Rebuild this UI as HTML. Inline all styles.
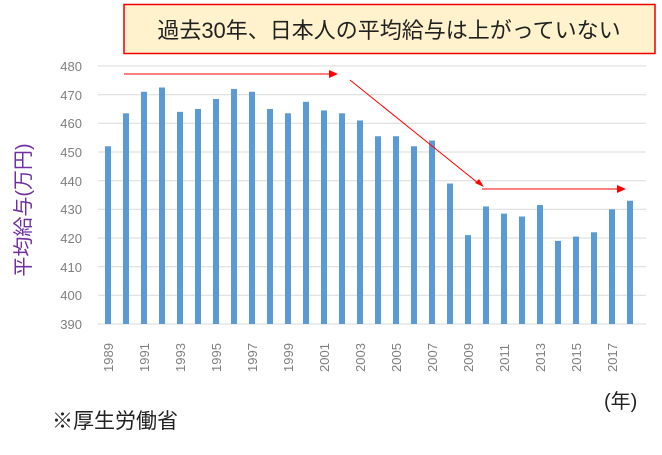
<!DOCTYPE html>
<html><head><meta charset="utf-8"><style>
body{margin:0;width:662px;height:450px;background:#fff;overflow:hidden;font-family:"Liberation Sans","Noto Sans CJK JP",sans-serif}
</style></head><body>
<svg width="662" height="450" xmlns="http://www.w3.org/2000/svg" font-family="Liberation Sans, Noto Sans CJK JP, sans-serif">
<rect x="124" y="4.5" width="531" height="49" fill="#fff2cc" stroke="#e00" stroke-width="1.5"/>
<text x="389" y="38" font-size="22" text-anchor="middle" fill="#222">過去30年、日本人の平均給与は上がっていない</text>
<g stroke="#d9d9d9" stroke-width="1">
<line x1="98" x2="646" y1="66" y2="66"/><line x1="98" x2="646" y1="94.7" y2="94.7"/><line x1="98" x2="646" y1="123.3" y2="123.3"/><line x1="98" x2="646" y1="152" y2="152"/><line x1="98" x2="646" y1="180.7" y2="180.7"/><line x1="98" x2="646" y1="209.3" y2="209.3"/><line x1="98" x2="646" y1="238" y2="238"/><line x1="98" x2="646" y1="266.7" y2="266.7"/><line x1="98" x2="646" y1="295.3" y2="295.3"/><line x1="98" x2="646" y1="324" y2="324"/>
</g>
<g font-size="13" fill="#7f7f7f" text-anchor="end">
<text x="82" y="71">480</text><text x="82" y="100">470</text><text x="82" y="128">460</text><text x="82" y="157">450</text><text x="82" y="186">440</text><text x="82" y="214">430</text><text x="82" y="243">420</text><text x="82" y="272">410</text><text x="82" y="300">400</text><text x="82" y="329">390</text>
</g>
<g id="bars" fill="#5b9bd5"></g>
<g id="years" font-size="13" fill="#7f7f7f"></g>
<g stroke="#f00" stroke-width="1" fill="none">
<line x1="124" y1="74" x2="330" y2="74"/><line x1="350" y1="80" x2="478" y2="183"/><line x1="482" y1="189" x2="618" y2="189"/>
</g>
<g fill="#f00"><polygon points="338,74 329,70 329,78"/><polygon points="484,187 475,183 479,179"/><polygon points="626,189 617,185 617,193"/></g>
<text transform="translate(30,210) rotate(-90)" font-size="20" fill="#7030a0" text-anchor="middle">平均給与(万円)</text>
<text x="604" y="408" font-size="20" fill="#222">(年)</text>
<text x="52" y="428" font-size="21" fill="#222">※厚生労働省</text>
</svg>
<script>
var v=[452,463.5,471,472.5,464,465,468.5,472,471,465,463.5,467.5,464.5,463.5,461,455.5,455.5,452,454,439,421,431,428.5,427.5,431.5,419,420.5,422,430,433];
var b=document.getElementById('bars'),y=document.getElementById('years'),ns='http://www.w3.org/2000/svg';
v.forEach(function(d,i){var x=108+i*18;var r=document.createElementNS(ns,'rect');var top=324-(d-390)*2.8667;
r.setAttribute('x',x-3);r.setAttribute('y',top);r.setAttribute('width',6);r.setAttribute('height',324-top);b.appendChild(r);
if(i%2==0){var t=document.createElementNS(ns,'text');t.setAttribute('transform','translate('+(x+5)+',372) rotate(-90)');t.textContent=1989+i;y.appendChild(t);}});
</script>
</body></html>
